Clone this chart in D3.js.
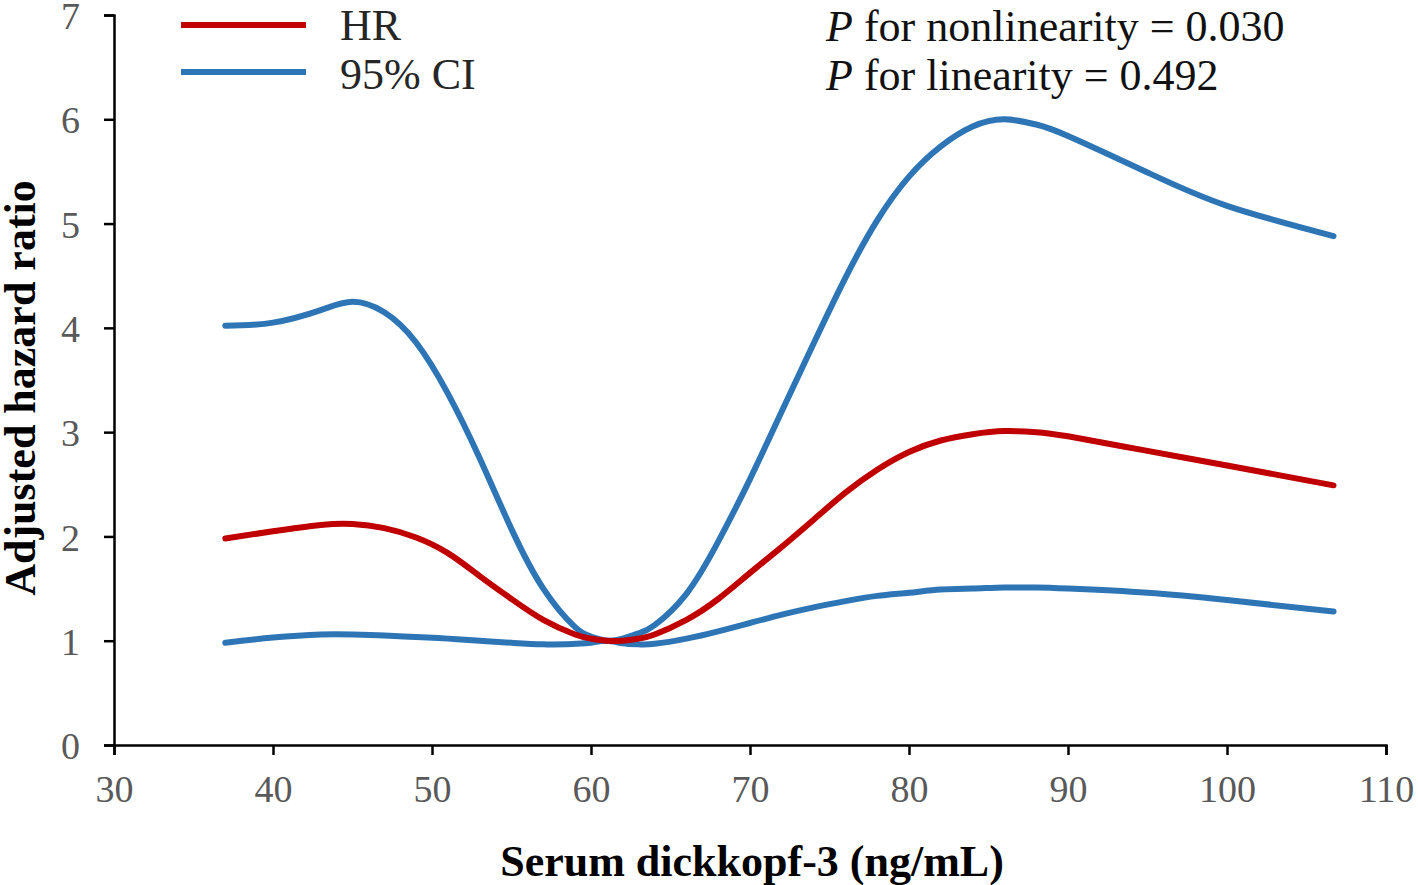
<!DOCTYPE html>
<html>
<head>
<meta charset="utf-8">
<script src="https://cdn.jsdelivr.net/npm/d3@7"></script>
<style>
  html, body { margin: 0; padding: 0; background: #fff; }
  svg { display: block; }
</style>
</head>
<body>
<svg id="chart" width="1418" height="885"></svg>
<script>
// ---- data ----
const dkk3 = [37, 40, 43, 45, 47, 49, 51, 53, 55, 57, 59, 60, 61, 62, 63, 64, 66, 68, 70, 72, 74, 76, 78, 80, 82, 84, 86, 88, 90, 95, 100, 106.7];
const hr = [1.98, 2.05, 2.11, 2.12, 2.08, 1.99, 1.84, 1.62, 1.40, 1.20, 1.06, 1.02, 1.00, 1.00, 1.02, 1.06, 1.20, 1.40, 1.65, 1.90, 2.16, 2.42, 2.64, 2.81, 2.92, 2.98, 3.01, 3.00, 2.96, 2.82, 2.68, 2.49];
const ciLower = [0.98, 1.03, 1.06, 1.06, 1.05, 1.035, 1.02, 1.00, 0.98, 0.965, 0.97, 0.98, 1.00, 0.975, 0.965, 0.97, 1.02, 1.09, 1.17, 1.25, 1.32, 1.38, 1.43, 1.46, 1.49, 1.50, 1.51, 1.51, 1.50, 1.46, 1.39, 1.28];
const ciUpper = [4.02, 4.05, 4.17, 4.25, 4.15, 3.86, 3.37, 2.75, 2.07, 1.50, 1.13, 1.04, 1.00, 1.02, 1.07, 1.15, 1.45, 1.95, 2.55, 3.20, 3.85, 4.48, 5.03, 5.45, 5.74, 5.93, 6.00, 5.95, 5.84, 5.49, 5.17, 4.88];
const xTicks = [30, 40, 50, 60, 70, 80, 90, 100, 110];
const yTicks = [0, 1, 2, 3, 4, 5, 6, 7];
const legendLabels = ["HR", "95% CI"];
const pTexts = [["P", " for nonlinearity = 0.030"], ["P", " for linearity = 0.492"]];
const xTitle = "Serum dickkopf-3 (ng/mL)";
const yTitle = "Adjusted hazard ratio";

// ---- chart ----
const svg = d3.select("#chart");
const serif = "'Liberation Serif', 'Times New Roman', serif";
const RED = "#C00000", BLUE = "#2E75B6";

const x = d3.scaleLinear().domain([30, 110]).range([114, 1386]);
const y = d3.scaleLinear().domain([0, 7]).range([745, 15]);

const xAxis = d3.axisBottom(x).tickValues(xTicks).tickFormat(d3.format("d")).tickSize(10).tickPadding(20).tickSizeOuter(10);
const yAxis = d3.axisLeft(y).tickValues(yTicks).tickFormat(d3.format("d")).tickSize(10).tickPadding(24).tickSizeOuter(10);

const gx = svg.append("g").attr("transform", "translate(0,745)").call(xAxis);
const gy = svg.append("g").attr("transform", "translate(114,0)").call(yAxis);
[gx, gy].forEach(g => {
  g.select(".domain").attr("stroke", "#000").attr("stroke-width", 2.5);
  g.selectAll(".tick line").attr("stroke", "#000").attr("stroke-width", 2.5);
  g.selectAll(".tick text").attr("fill", "#595959").style("font-family", serif).style("font-size", "38px");
});
gy.selectAll(".tick text").attr("dy", "0.36em");

const line = vals => d3.line()
  .x((d, i) => x(dkk3[i]))
  .y(d => y(d))
  .curve(d3.curveNatural)(vals);

[[ciLower, BLUE], [ciUpper, BLUE], [hr, RED]].forEach(([vals, col]) => {
  svg.append("path").attr("d", line(vals)).attr("fill", "none")
    .attr("stroke", col).attr("stroke-width", 6).attr("stroke-linecap", "round").attr("stroke-linejoin", "round");
});

// legend
[[RED, 25, 40], [BLUE, 72, 89]].forEach(([col, ly, ty], i) => {
  svg.append("line").attr("x1", 181).attr("x2", 306).attr("y1", ly).attr("y2", ly)
    .attr("stroke", col).attr("stroke-width", 6);
  svg.append("text").attr("x", 340).attr("y", ty).text(legendLabels[i])
    .attr("fill", "#262626").style("font-family", serif).style("font-size", "44px");
});

// P texts
pTexts.forEach((p, i) => {
  const t = svg.append("text").attr("x", 826).attr("y", 41 + i * 49)
    .attr("fill", "#111").style("font-family", serif).style("font-size", "44px");
  t.append("tspan").attr("font-style", "italic").text(p[0]);
  t.append("tspan").text(p[1]);
});

// axis titles
svg.append("text").attr("x", 752).attr("y", 876).attr("text-anchor", "middle")
  .style("font-family", serif).style("font-size", "44px").style("font-weight", "bold")
  .attr("fill", "#000").text(xTitle);
svg.append("text").attr("transform", "translate(35,388) rotate(-90)").attr("text-anchor", "middle")
  .style("font-family", serif).style("font-size", "44px").style("font-weight", "bold")
  .attr("fill", "#000").text(yTitle);
</script>
</body>
</html>
